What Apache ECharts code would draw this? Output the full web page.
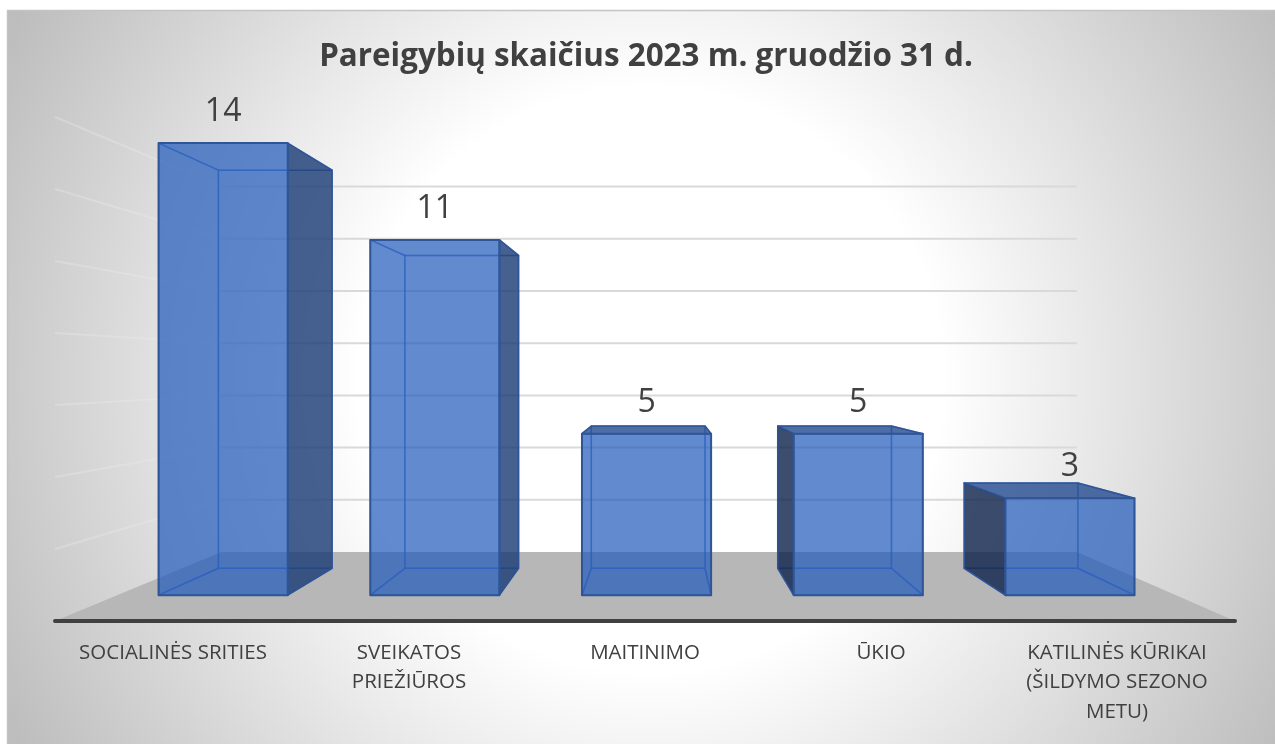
<!DOCTYPE html>
<html>
<head>
<meta charset="utf-8">
<style>html,body{margin:0;padding:0;background:#fff;overflow:hidden}#c{width:1275px;height:744px}</style>
<script src="https://cdn.jsdelivr.net/npm/echarts@6/dist/echarts.min.js"></script>
</head>
<body>
<div id="c"></div>
<script>
const titleText = 'Pareigybių skaičius 2023 m. gruodžio 31 d.';
const categories = ['SOCIALINĖS SRITIES', 'SVEIKATOS\nPRIEŽIŪROS', 'MAITINIMO', 'ŪKIO', 'KATILINĖS KŪRIKAI\n(ŠILDYMO SEZONO\nMETU)'];
const positions = [14, 11, 5, 5, 3];
const wallTicks = [2, 4, 6, 8, 10, 12, 14];

// perspective of the 3-D plot: depth fractions towards the vanishing point
const VP = [660, 370];
const DEPTH_BAR_FRONT = 0.103, DEPTH_BAR_BACK = 0.21, DEPTH_WALL = 0.275;
const BAR_RATIO = 0.61;
const project = (p, t) => [p[0] + t * (VP[0] - p[0]), p[1] + t * (VP[1] - p[1])];

const TEXT = '#404040';
const FRONT = 'rgba(32,88,186,0.7)';
const TOP_OUT = 'rgba(35,74,144,0.8)';
const RIGHT_OUT = 'rgba(24,57,115,0.8)';
const LEFT_OUT = 'rgba(12,32,72,0.8)';
const EDGE = '#2f5597', EDGE_IN = 'rgba(58,108,200,0.5)';

const chart = echarts.init(document.getElementById('c'), null, {renderer: 'canvas'});

function poly(points, fill, stroke, w) {
  return {type: 'polygon', shape: {points}, silent: true,
    style: {fill: fill || 'none', stroke: stroke || 'none', lineWidth: w || 0, lineJoin: 'round'}};
}
function renderFloor(params, api) {
  const g = params.coordSys, y0 = api.coord([0, 0])[1];
  const a = [g.x, y0], b = [g.x + g.width, y0];
  return poly([a, b, project(b, DEPTH_WALL), project(a, DEPTH_WALL)], '#b7b7b7');
}
function renderWall(params, api) {
  const g = params.coordSys, y = api.coord([0, api.value(1)])[1];
  const a = [g.x, y], b = [g.x + g.width, y];
  const a2 = project(a, DEPTH_WALL), b2 = project(b, DEPTH_WALL);
  return {type: 'group', silent: true, children: [
    {type: 'line', shape: {x1: a[0], y1: a[1], x2: a2[0], y2: a2[1]},
      style: {stroke: 'rgba(236,236,236,0.32)', lineWidth: 2}},
    {type: 'line', shape: {x1: a2[0], y1: a2[1], x2: b2[0], y2: b2[1]},
      style: {stroke: '#d9d9d9', lineWidth: 2}}
  ]};
}
function renderBar(params, api) {
  const c = api.coord([api.value(0), api.value(1)]);
  const y0 = api.coord([api.value(0), 0])[1];
  const hw = api.size([1, 0])[0] * BAR_RATIO / 2;
  const L = c[0] - hw, R = c[0] + hw;
  const f = t => [project([L, c[1]], t), project([R, c[1]], t), project([R, y0], t), project([L, y0], t)];
  const F = f(DEPTH_BAR_FRONT), B = f(DEPTH_BAR_BACK);
  const ch = [];
  const seeTop = F[0][1] > VP[1];
  const rightOut = B[1][0] > F[1][0];
  const leftOut = B[0][0] < F[0][0];
  // inner (see-through) faces
  ch.push(poly(B, 'none', EDGE_IN, 1.5));
  ch.push(poly([F[3], F[2], B[2], B[3]], 'none', EDGE_IN, 1.5));
  if (!seeTop) ch.push(poly([F[0], F[1], B[1], B[0]], 'none', EDGE_IN, 1.5));
  if (!rightOut) ch.push(poly([F[1], F[2], B[2], B[1]], 'none', EDGE_IN, 1.5));
  if (!leftOut) ch.push(poly([F[0], F[3], B[3], B[0]], 'none', EDGE_IN, 1.5));
  // outer faces
  if (seeTop) ch.push(poly([F[0], F[1], B[1], B[0]], TOP_OUT, EDGE, 1.5));
  if (rightOut) ch.push(poly([F[1], F[2], B[2], B[1]], RIGHT_OUT, EDGE, 1.5));
  if (leftOut) ch.push(poly([F[0], F[3], B[3], B[0]], LEFT_OUT, EDGE, 1.5));
  ch.push(poly(F, FRONT, EDGE, 2));
  ch.push({type: 'text', silent: true, x: (F[0][0] + F[1][0]) / 2, y: F[0][1] - 31,
    style: {text: String(api.value(1)), fill: TEXT, font: '32px "Open Sans"', align: 'center', verticalAlign: 'middle'}});
  return {type: 'group', children: ch};
}

chart.setOption({
  animation: false,
  backgroundColor: '#ffffff',
  title: {text: titleText, left: 641, top: 37, textAlign: 'center',
    textStyle: {color: TEXT, fontFamily: '"Open Sans"', fontWeight: 'bold', fontSize: 31.4}},
  graphic: [{type: 'rect', z: -10, silent: true, shape: {x: 7.5, y: 10.5, width: 1275, height: 740},
    style: {stroke: '#c4c4c4', lineWidth: 1.5,
      fill: new echarts.graphic.RadialGradient(650, 380, 730, [
        {offset: 0, color: '#ffffff'}, {offset: 0.4, color: '#ffffff'}, {offset: 1, color: '#bdbdbd'}], true)}}],
  grid: {left: 55, right: 40, top: 117, bottom: 123, containLabel: false},
  xAxis: {type: 'category', data: categories, boundaryGap: true, z: 5,
    axisTick: {show: false},
    axisLine: {show: true, lineStyle: {color: '#404040', width: 4, cap: 'round'}},
    axisLabel: {color: TEXT, fontFamily: '"Open Sans"', fontSize: 20.5, lineHeight: 29.5, margin: 17, interval: 0, align: 'center'}},
  yAxis: {type: 'value', min: 0, max: 14, interval: 2,
    axisLabel: {show: false}, axisLine: {show: false}, axisTick: {show: false}, splitLine: {show: false}},
  tooltip: {show: false},
  series: [
    {type: 'custom', name: 'floor', renderItem: renderFloor, data: [[0, 0]], clip: false, z: 1, silent: true},
    {type: 'custom', name: 'wall', renderItem: renderWall, data: wallTicks.map(v => [0, v]), clip: false, z: 2, silent: true},
    {type: 'custom', name: 'Pareigybės', renderItem: renderBar, encode: {x: 0, y: 1},
      data: positions.map((v, i) => [i, v]), clip: false, z: 3, silent: true}
  ]
});
</script>
</body>
</html>
